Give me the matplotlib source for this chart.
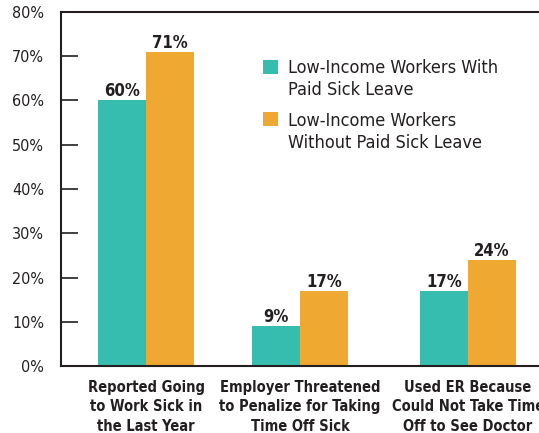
import numpy as np
import matplotlib.pyplot as plt
from matplotlib.patches import Rectangle

categories = [
    "Reported Going\nto Work Sick in\nthe Last Year",
    "Employer Threatened\nto Penalize for Taking\nTime Off Sick",
    "Used ER Because\nCould Not Take Time\nOff to See Doctor",
]
with_leave = [60, 9, 17]
without_leave = [71, 17, 24]
series_names = [
    "Low-Income Workers With\nPaid Sick Leave",
    "Low-Income Workers\nWithout Paid Sick Leave",
]
yticks = [0, 10, 20, 30, 40, 50, 60, 70, 80]

teal = "#36bdaf"
orange = "#efa831"
ink = "#231f20"

plt.rcParams["font.family"] = ["DejaVu Sans"]
plt.rcParams["font.stretch"] = "condensed"

fig = plt.figure(figsize=(5.39, 4.33), dpi=100)
ax = fig.add_axes([0.1132, 0.1547, 0.8868, 0.8176])

group_x = np.array([0, 0.957, 2.0])
w = 0.298

b1 = ax.bar(group_x - w / 2, with_leave, w, color=teal, linewidth=0)
b2 = ax.bar(group_x + w / 2, without_leave, w, color=orange, linewidth=0)

# value labels sit just above each bar
for bars, vals in ((b1, with_leave), (b2, without_leave)):
    for rect, v in zip(bars, vals):
        ax.annotate(f"{v}%", (rect.get_x() + rect.get_width() / 2, v),
                    xytext=(0, 3), textcoords="offset points",
                    ha="center", va="baseline", fontsize=12, fontweight="bold", color=ink)

ax.set_xlim(-0.528, 2.441)
ax.set_ylim(0, 80)
ax.set_yticks(yticks)
ax.set_yticklabels([f"{t}%" for t in yticks], fontsize=11.5, color=ink)
ax.tick_params(axis="y", direction="in", length=12, width=1.2, color=ink, pad=12)

ax.set_xticks(group_x)
ax.set_xticklabels(categories, fontsize=10.5, fontweight="bold", color=ink, linespacing=1.38)
ax.tick_params(axis="x", length=0, pad=10)

ax.spines["right"].set_visible(False)
for side in ("left", "bottom", "top"):
    ax.spines[side].set_color(ink)
    ax.spines[side].set_linewidth(1.5)

# legend: square swatch next to the first line of each label
for (sq_y, txt_y), color, name in zip(((0.825, 0.866), (0.678, 0.717)), (teal, orange), series_names):
    ax.add_patch(Rectangle((0.4226, sq_y), 0.0314, 0.0395, transform=ax.transAxes,
                           color=color, linewidth=0, clip_on=False))
    ax.text(0.4749, txt_y, name, transform=ax.transAxes, ha="left", va="top",
            fontsize=13, color=ink, linespacing=1.28)

fig.savefig("out.png", dpi=100)
